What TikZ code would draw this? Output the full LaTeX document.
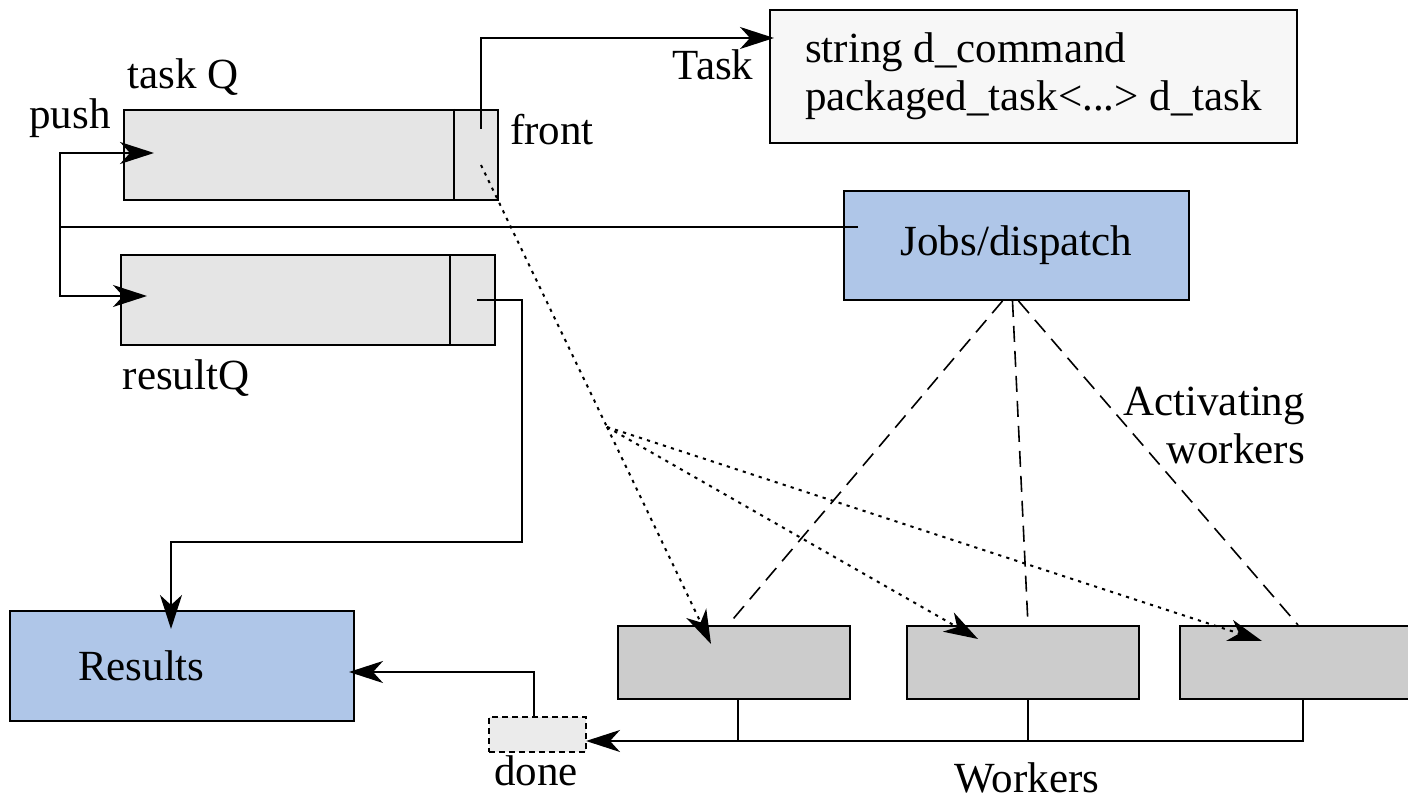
\documentclass[tikz,border=0pt]{standalone}
\usepackage{fontspec}
\setmainfont{Liberation Serif}
\usetikzlibrary{arrows.meta,positioning,calc}
\definecolor{queuegray}{HTML}{E5E5E5}
\definecolor{taskwhite}{HTML}{F7F7F7}
\definecolor{jobblue}{HTML}{AFC6E8}
\definecolor{workgray}{HTML}{CCCCCC}
\definecolor{donegray}{HTML}{EBEBEB}

\begin{document}
\begin{tikzpicture}[x=0.5pt,y=-0.5pt,
  every node/.style={font=\fontsize{21.5}{24}\selectfont},
  box/.style={draw,line width=1pt,inner sep=0pt},
  queue/.style={box,fill=queuegray,minimum width=187pt,minimum height=45pt},
  worker/.style={box,fill=workgray,minimum width=116pt,minimum height=36.5pt},
  link/.style={line width=1pt},
  tip/.style={link,-{Stealth[length=17pt,width=11pt,inset=5pt]}},
  activate/.style={line width=0.8pt,dash pattern=on 8pt off 4.5pt},
  dots/.style={line width=1pt,dash pattern=on 1.6pt off 2.6pt},
  feed/.style={dots,-{Stealth[length=17pt,width=11pt,inset=5pt]}}]
  \useasboundingbox (0,0) rectangle (1408,801);
  % queues and boxes
  \node[queue] (taskq) at (310.5,155) {};
  \node[queue] (resultq) at (308,300.5) {};
  \node[box,fill=taskwhite,minimum width=263.5pt,minimum height=66.5pt,align=left] (task) at (1033.5,76.5)
       {string d\_command\\packaged\_task<...> d\_task};
  \node[box,fill=jobblue,minimum width=172.5pt,minimum height=54.5pt] (jobs) at (1016.5,245.5) {Jobs/dispatch};
  \node[box,fill=jobblue,minimum width=172pt,minimum height=55pt,
        text width=104pt,inner xsep=34pt,align=left] (results) at (182,666) {Results};
  \node[box,fill=donegray,line width=0.75pt,dash pattern=on 3pt off 2pt,
        minimum width=48.5pt,minimum height=17.5pt] (done) at (537.5,734.5) {};
  \node[worker] (w1) at (734,662.5) {};
  \node[worker,right=27.5pt of w1] (w2) {};
  \node[worker,minimum width=115pt,right=19.5pt of w2] (w3) {};
  % labels
  \node (taskqlbl) at (183,77) {task Q};
  \node (pushlbl) at (70,118) {push};
  \node (frontlbl) at (552,130) {front};
  \node (tasklbl) at (713,65) {Task};
  \node (resultqlbl) at (186,378) {resultQ};
  \node (donelbl) at (536,771) {done};
  \node (workerslbl) at (1027,778) {Workers};
  \node[align=right,anchor=east] (actlbl) at (1312,425) {Activating\\workers};
  % connector points
  \coordinate (split) at (60,227);
  \coordinate (jobsin) at (858,227);
  \coordinate (tqin) at (154,153);
  \coordinate (rqin) at (147,296);
  \coordinate (tqfront) at (481,129);
  \coordinate (taskin) at (774,38);
  \coordinate (rqout) at (477,300);
  \coordinate (rqbend) at (522,542);
  \coordinate (resin) at (171,629);
  \coordinate (resside) at (349,672);
  \coordinate (donein) at (586,741);
  \coordinate (tqback) at (481,165);
  \coordinate (fork) at (607,427);
  \coordinate (w1in) at (711,644);
  \coordinate (w2in) at (978,639);
  \coordinate (w3in) at (1262,641);
  % queue fronts
  \draw[link] ($(taskq.north east)+(-45,0)$) -- ($(taskq.south east)+(-45,0)$);
  \draw[link] ($(resultq.north east)+(-46,0)$) -- ($(resultq.south east)+(-46,0)$);
  % push and results
  \draw[link] (jobsin) -- (split);
  \draw[tip] (split) |- (tqin);
  \draw[tip] (split) |- (rqin);
  \draw[tip] (tqfront) |- (taskin);
  \draw[tip] (rqout) -| (rqbend) -| (resin);
  \draw[tip] ($(done.north)+(-4,0)$) |- (resside);
  % workers to done
  \draw[tip] ($(w3.south)+(8,0)$) |- (donein);
  \draw[link] ($(w1.south)+(4,0)$) -- ($(w1.south |- donein)+(4,0)$);
  \draw[link] ($(w2.south)+(5,0)$) -- ($(w2.south |- donein)+(5,0)$);
  % activating
  \draw[activate] ($(jobs.south)+(-14,0)$) -- ($(w1.north)+(-6,0)$);
  \draw[activate] ($(jobs.south)+(-4,0)$) -- ($(w2.north)+(5,0)$);
  \draw[activate] ($(jobs.south)+(2,0)$) -- ($(w3.north)+(3,0)$);
  % tasks handed out
  \draw[dots] (tqback) -- (fork);
  \draw[feed] (fork) -- (w1in);
  \draw[feed] (fork) -- (w2in);
  \draw[feed] (fork) -- (w3in);
\end{tikzpicture}
\end{document}
